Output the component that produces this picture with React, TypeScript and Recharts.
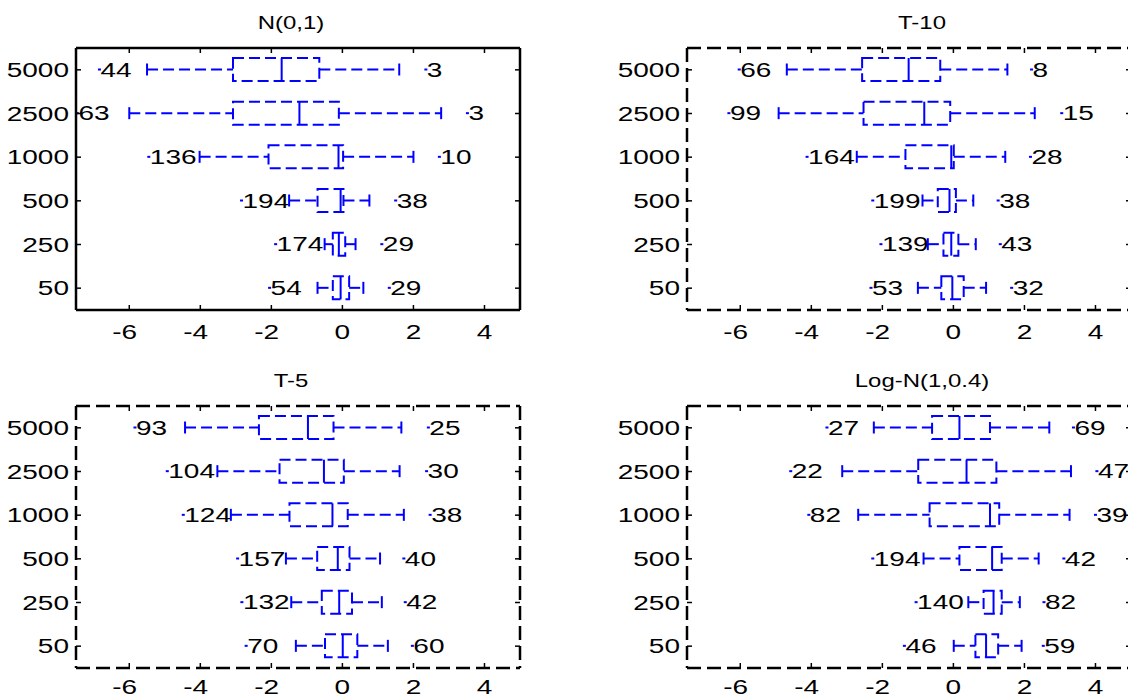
import React from 'react';
import { ComposedChart, Bar, XAxis, YAxis, CartesianGrid } from 'recharts';

const categories = ['5000', '2500', '1000', '500', '250', '50'];
const xTicks = [-6, -4, -2, 0, 2, 4];

// N(0,1)
const n01Lo = [-6.84, -7.46, -5.45, -2.84, -1.88, -2.05];
const n01Wl = [-5.5, -6.0, -4.02, -1.5, -0.5, -0.7];
const n01Q1 = [-3.08, -3.08, -2.08, -0.7, -0.27, -0.27];
const n01Med = [-1.71, -1.21, -0.11, -0.05, -0.1, -0.05];
const n01Q3 = [-0.65, -0.1, 0.02, 0.03, 0.08, 0.19];
const n01Wh = [1.6, 2.78, 2.0, 0.76, 0.37, 0.59];
const n01Hi = [2.35, 3.52, 2.73, 1.5, 1.11, 1.32];
const n01LoLab = ['44', '63', '136', '194', '174', '54'];
const n01HiLab = ['3', '3', '10', '38', '29', '29'];

// T-10
const t10Lo = [-6.03, -6.32, -4.12, -2.27, -2.04, -2.32];
const t10Wl = [-4.69, -4.92, -2.72, -0.87, -0.72, -1.0];
const t10Q1 = [-2.57, -2.53, -1.35, -0.44, -0.28, -0.34];
const t10Med = [-1.26, -0.82, -0.06, -0.11, -0.06, -0.03];
const t10Q3 = [-0.37, -0.09, 0.01, 0.07, 0.14, 0.29];
const t10Wh = [1.52, 2.29, 1.46, 0.56, 0.63, 0.92];
const t10Hi = [2.2, 3.05, 2.17, 1.26, 1.32, 1.64];
const t10LoLab = ['66', '99', '164', '199', '139', '53'];
const t10HiLab = ['8', '15', '28', '38', '43', '32'];

// T-5
const t5Lo = [-5.84, -4.93, -4.48, -2.95, -2.83, -2.71];
const t5Wl = [-4.43, -3.52, -3.14, -1.59, -1.44, -1.31];
const t5Q1 = [-2.35, -1.77, -1.49, -0.71, -0.58, -0.49];
const t5Med = [-0.97, -0.52, -0.28, -0.13, -0.09, 0.01];
const t5Q3 = [-0.25, 0.04, 0.15, 0.2, 0.27, 0.42];
const t5Wh = [1.66, 1.61, 1.73, 1.06, 1.11, 1.28];
const t5Hi = [2.42, 2.37, 2.47, 1.73, 1.77, 1.97];
const t5LoLab = ['93', '104', '124', '157', '132', '70'];
const t5HiLab = ['25', '30', '38', '40', '42', '60'];

// Log-N(1,0.4)
const lnLo = [-3.56, -4.58, -4.07, -2.27, -1.05, -1.38];
const lnWl = [-2.24, -3.13, -2.68, -0.84, 0.42, 0.01];
const lnQ1 = [-0.6, -0.99, -0.67, 0.17, 0.85, 0.62];
const lnMed = [0.17, 0.37, 1.03, 1.09, 1.13, 0.92];
const lnQ3 = [1.03, 1.21, 1.29, 1.36, 1.36, 1.26];
const lnWh = [2.7, 3.31, 3.27, 2.4, 1.87, 1.92];
const lnHi = [3.38, 4.04, 4.0, 3.11, 2.55, 2.53];
const lnLoLab = ['27', '22', '82', '194', '140', '46'];
const lnHiLab = ['69', '47', '39', '42', '82', '59'];

const FONT = "'Liberation Sans', Arial, sans-serif";
const FS = 20;
const SX = 1.4;
const BASE = FS * 0.358;
const BLUE = '#0000ff';
const DASH = '11 5';

const CHART_W = 560;
const CHART_H = 350;
const MARGIN = { top: 48, right: 40, bottom: 0, left: 0 };
const Y_AXIS_W = 76;
const X_AXIS_H = 40;
const PLOT_W = CHART_W - MARGIN.left - MARGIN.right - Y_AXIS_W;
const PLOT_H = CHART_H - MARGIN.top - MARGIN.bottom - X_AXIS_H;

function build(lo: number[], wl: number[], q1: number[], med: number[], q3: number[], wh: number[], hi: number[], loLab: string[], hiLab: string[]) {
  return categories.map((n, i) => ({
    n, lo: lo[i], wl: wl[i], q1: q1[i], med: med[i], q3: q3[i], wh: wh[i], hi: hi[i], loLab: loLab[i], hiLab: hiLab[i],
  }));
}

const WText = ({ x, y, anchor, children }: any) => (
  <text
    transform={`translate(${x},${y}) scale(${SX},1)`}
    textAnchor={anchor}
    fontFamily={FONT}
    fontSize={FS}
    fill="#000"
  >
    {children}
  </text>
);

const BoxShape = (props: any) => {
  const { x, y, width, height, payload } = props;
  const x0 = Math.min(x, x + width);
  const w = Math.abs(width);
  const lo = payload.lo;
  const hi = payload.hi;
  const px = (v: number) => x0 + ((v - lo) / (hi - lo)) * w;
  const cy = y + height / 2;
  const top = y;
  const bot = y + height;
  const capH = 6;
  return (
    <g>
      <rect x={px(lo) - 1.5} y={cy - 1} width={3} height={2} fill={BLUE} />
      <WText x={px(lo) + 1} y={cy + BASE} anchor="start">{payload.loLab}</WText>
      <line x1={px(payload.wl)} x2={px(payload.q1)} y1={cy} y2={cy} stroke={BLUE} strokeWidth={2} strokeDasharray={DASH} />
      <line x1={px(payload.wl)} x2={px(payload.wl)} y1={cy - capH} y2={cy + capH} stroke={BLUE} strokeWidth={2} />
      <rect x={px(payload.q1)} y={top} width={px(payload.q3) - px(payload.q1)} height={bot - top} fill="none" stroke={BLUE} strokeWidth={2} strokeDasharray={DASH} />
      <line x1={px(payload.med)} x2={px(payload.med)} y1={top} y2={bot} stroke={BLUE} strokeWidth={2} />
      <line x1={px(payload.q3)} x2={px(payload.wh)} y1={cy} y2={cy} stroke={BLUE} strokeWidth={2} strokeDasharray={DASH} />
      <line x1={px(payload.wh)} x2={px(payload.wh)} y1={cy - capH} y2={cy + capH} stroke={BLUE} strokeWidth={2} />
      <rect x={px(hi) - 1.5} y={cy - 1} width={3} height={2} fill={BLUE} />
      <WText x={px(hi) + 1} y={cy + BASE} anchor="start">{payload.hiLab}</WText>
    </g>
  );
};

const TICK = 5;

// bottom axis: label + inward tick on bottom and on top border
const BottomTick = (p: any) => {
  const v = p.payload.value;
  const off = v < 0 ? (0.333 * FS * SX) / 2 : 0;
  return (
    <g>
      <line x1={p.x} x2={p.x} y1={p.y} y2={p.y - TICK} stroke="#000" strokeWidth={1.5} />
      <line x1={p.x} x2={p.x} y1={p.y - PLOT_H} y2={p.y - PLOT_H + TICK} stroke="#000" strokeWidth={1.5} />
      <WText x={p.x - off} y={p.y + p.labelDy + BASE} anchor="middle">{String(v)}</WText>
    </g>
  );
};

// left axis: label + inward tick on left and on right border
const LeftTick = (p: any) => (
  <g>
    <line x1={p.x} x2={p.x + TICK} y1={p.y} y2={p.y} stroke="#000" strokeWidth={1.5} />
    <line x1={p.x + PLOT_W} x2={p.x + PLOT_W - TICK} y1={p.y} y2={p.y} stroke="#000" strokeWidth={1.5} />
    <WText x={p.x - 7} y={p.y + BASE} anchor="end">{p.payload.value}</WText>
  </g>
);

const Panel = ({ left, top, title, titleX, data, dashed, labelDy }: any) => {
  const dash = dashed ? '14 6' : undefined;
  const border = { stroke: '#000', strokeWidth: 2.5, strokeDasharray: dash };
  return (
    <div style={{ position: 'absolute', left, top, width: CHART_W, height: CHART_H }}>
      <div
        style={{
          position: 'absolute', left: titleX - 150, top: 11, width: 300, height: 24, lineHeight: '24px',
          textAlign: 'center', fontFamily: FONT, fontSize: 18, color: '#000', transform: 'scaleX(1.33)',
        }}
      >
        {title}
      </div>
      <div style={{ position: 'absolute', left: 0, top: 0 }}>
        <ComposedChart width={CHART_W} height={CHART_H} layout="vertical" data={data} margin={MARGIN}>
          <CartesianGrid
            stroke="#000"
            strokeWidth={2.5}
            strokeDasharray={dash}
            horizontalCoordinatesGenerator={({ offset }: any) => [offset.top]}
            verticalCoordinatesGenerator={({ offset }: any) => [offset.left + offset.width]}
          />
          <XAxis type="number" domain={[-7.5, 5]} ticks={xTicks} allowDataOverflow orientation="bottom" height={X_AXIS_H}
            axisLine={border} tickLine={false} tickSize={0} tickMargin={0} interval={0}
            tick={(p: any) => <BottomTick {...p} labelDy={labelDy} />} />
          <YAxis type="category" dataKey="n" orientation="left" width={Y_AXIS_W}
            axisLine={border} tickLine={false} tickSize={0} tickMargin={0} interval={0} tick={(p: any) => <LeftTick {...p} />} />
          <Bar dataKey={(d: any) => [d.lo, d.hi]} barSize={23} shape={BoxShape} isAnimationActive={false} />
        </ComposedChart>
      </div>
    </div>
  );
};

const n01Data = build(n01Lo, n01Wl, n01Q1, n01Med, n01Q3, n01Wh, n01Hi, n01LoLab, n01HiLab);
const t10Data = build(t10Lo, t10Wl, t10Q1, t10Med, t10Q3, t10Wh, t10Hi, t10LoLab, t10HiLab);
const t5Data = build(t5Lo, t5Wl, t5Q1, t5Med, t5Q3, t5Wh, t5Hi, t5LoLab, t5HiLab);
const lnData = build(lnLo, lnWl, lnQ1, lnMed, lnQ3, lnWh, lnHi, lnLoLab, lnHiLab);

export default function App() {
  return (
    <div style={{ position: 'absolute', left: 0, top: 0, width: 1128, height: 698, overflow: 'hidden', background: '#fff' }}>
      <Panel left={0} top={0} title="N(0,1)" titleX={291} data={n01Data} dashed={false} labelDy={22} />
      <Panel left={611} top={0} title="T-10" titleX={311} data={t10Data} dashed labelDy={22} />
      <Panel left={0} top={358} title="T-5" titleX={291} data={t5Data} dashed labelDy={19} />
      <Panel left={611} top={358} title="Log-N(1,0.4)" titleX={311} data={lnData} dashed labelDy={19} />
    </div>
  );
}
